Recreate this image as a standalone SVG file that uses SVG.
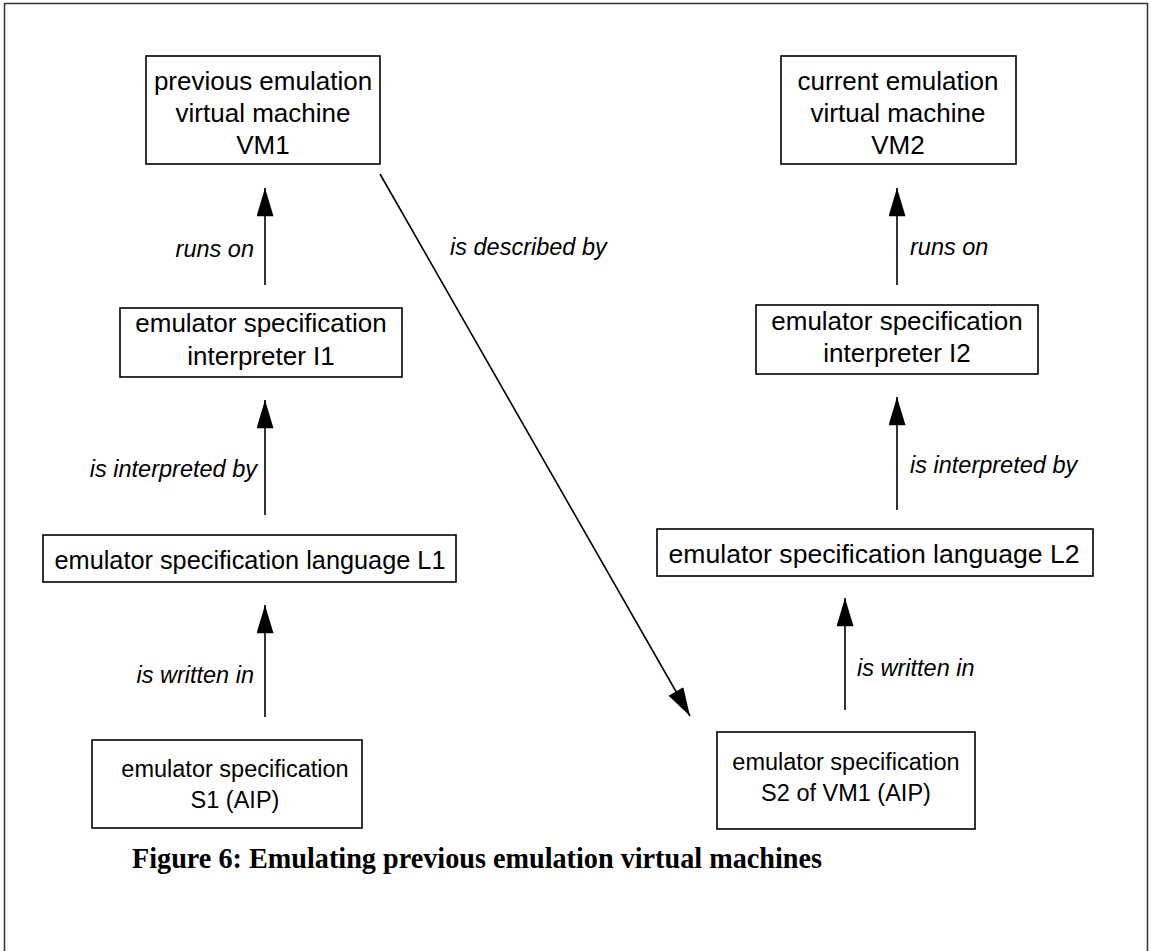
<svg xmlns="http://www.w3.org/2000/svg" width="1151" height="951" viewBox="0 0 1151 951">
  <defs>
    <marker id="arrow" viewBox="0 0 30 18" refX="30" refY="9" markerWidth="29" markerHeight="17" markerUnits="userSpaceOnUse" orient="auto">
      <path d="M0,0 L30,9 L0,18 Z" fill="#000"/>
    </marker>
    <style>
      .box { fill: #fff; stroke: #000; stroke-width: 1.6; }
      .node { font-family: "Liberation Sans", Arial, sans-serif; font-size: 26px; fill: #000; text-anchor: middle; }
      .small { font-size: 23.5px; }
      .label { font-family: "Liberation Sans", Arial, sans-serif; font-size: 23.5px; font-style: italic; fill: #000; }
      .edge { stroke: #000; stroke-width: 1.6; fill: none; }
      .title { font-family: "Liberation Serif", "Times New Roman", serif; font-size: 29px; font-weight: bold; fill: #000; text-anchor: middle; }
    </style>
  </defs>

  <rect width="1151" height="951" fill="#fff"/>
  <!-- outer frame -->
  <rect x="4.5" y="3.5" width="1143" height="970" fill="none" stroke="#333" stroke-width="1.5"/>

  <g id="vm1">
    <rect class="box" x="146" y="56" width="234" height="108"/>
    <text class="node" x="263" y="90">previous emulation</text>
    <text class="node" x="263" y="122">virtual machine</text>
    <text class="node" x="263" y="154">VM1</text>
  </g>
  <g id="i1">
    <rect class="box" x="120" y="308" width="282" height="69"/>
    <text class="node" x="261" y="332">emulator specification</text>
    <text class="node" x="261" y="365">interpreter I1</text>
  </g>
  <g id="l1">
    <rect class="box" x="43" y="535" width="413" height="47"/>
    <text class="node" x="250" y="569" textLength="391" lengthAdjust="spacingAndGlyphs">emulator specification language L1</text>
  </g>
  <g id="s1">
    <rect class="box" x="92" y="740" width="270" height="88"/>
    <text class="node small" x="235" y="777">emulator specification</text>
    <text class="node small" x="235" y="808">S1 (AIP)</text>
  </g>

  <g id="vm2">
    <rect class="box" x="781" y="56" width="235" height="108"/>
    <text class="node" x="898" y="90">current emulation</text>
    <text class="node" x="898" y="122">virtual machine</text>
    <text class="node" x="898" y="154">VM2</text>
  </g>
  <g id="i2">
    <rect class="box" x="756" y="305" width="282" height="69"/>
    <text class="node" x="897" y="330">emulator specification</text>
    <text class="node" x="897" y="362">interpreter I2</text>
  </g>
  <g id="l2">
    <rect class="box" x="657" y="529" width="436" height="47"/>
    <text class="node" x="874" y="563" textLength="411" lengthAdjust="spacingAndGlyphs">emulator specification language L2</text>
  </g>
  <g id="s2">
    <rect class="box" x="717" y="732" width="258" height="97"/>
    <text class="node small" x="846" y="770">emulator specification</text>
    <text class="node small" x="846" y="801">S2 of VM1 (AIP)</text>
  </g>

  <g id="connectors">
    <line class="edge" x1="265" y1="285" x2="265" y2="188" marker-end="url(#arrow)"/>
    <line class="edge" x1="265" y1="515" x2="265" y2="400" marker-end="url(#arrow)"/>
    <line class="edge" x1="265" y1="717" x2="265" y2="605" marker-end="url(#arrow)"/>
    <line class="edge" x1="897" y1="285" x2="897" y2="188" marker-end="url(#arrow)"/>
    <line class="edge" x1="897" y1="510" x2="897" y2="397" marker-end="url(#arrow)"/>
    <line class="edge" x1="845" y1="710" x2="845" y2="598" marker-end="url(#arrow)"/>
    <line class="edge" x1="380" y1="174" x2="690" y2="716" marker-end="url(#arrow)"/>
  </g>

  <g id="labels">
    <text class="label" x="254" y="257" text-anchor="end">runs on</text>
    <text class="label" x="257" y="477" text-anchor="end">is interpreted by</text>
    <text class="label" x="254" y="683" text-anchor="end">is written in</text>
    <text class="label" x="450" y="255">is described by</text>
    <text class="label" x="910" y="255">runs on</text>
    <text class="label" x="910" y="473">is interpreted by</text>
    <text class="label" x="857" y="676">is written in</text>
  </g>

  <text class="title" x="477" y="868" textLength="690" lengthAdjust="spacingAndGlyphs">Figure 6: Emulating previous emulation virtual machines</text>
</svg>
